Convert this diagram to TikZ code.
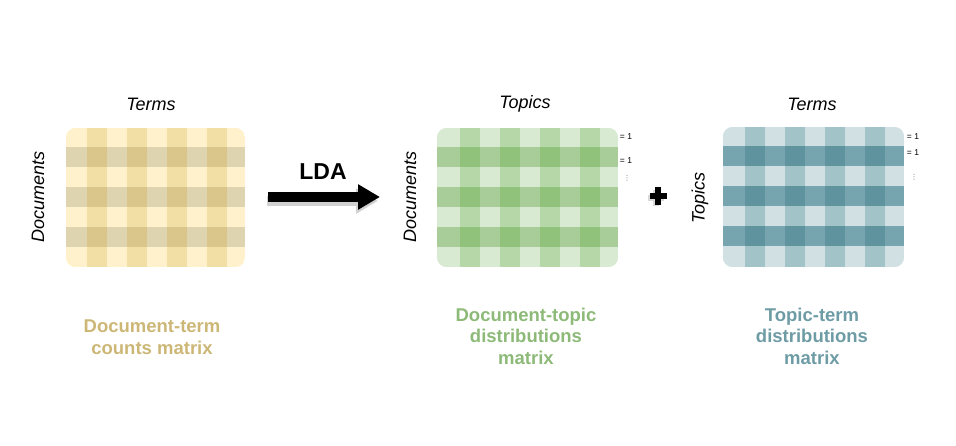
\documentclass[tikz,border=0pt]{standalone}
\usepackage{fontspec}
\setmainfont{Liberation Sans}
\newfontfamily\dotsfont{DejaVu Sans}
\usepackage{tikz}
\usetikzlibrary{arrows.meta, positioning, calc}
\definecolor{yellowlight}{HTML}{FFF1CB}
\definecolor{yellowcol}{HTML}{F2DFA6}
\definecolor{yellowrow}{HTML}{DFD4B0}
\definecolor{yellowmix}{HTML}{DAC68B}
\definecolor{yellowtext}{HTML}{CDB777}
\definecolor{greenlight}{HTML}{D9EAD3}
\definecolor{greencol}{HTML}{B6D7A8}
\definecolor{greenrow}{HTML}{A9CD99}
\definecolor{greenmix}{HTML}{91C27C}
\definecolor{greentext}{HTML}{8DBA78}
\definecolor{teallight}{HTML}{D1E0E3}
\definecolor{tealcol}{HTML}{A2C4C9}
\definecolor{tealrow}{HTML}{76A5AF}
\definecolor{tealmix}{HTML}{5F939E}
\definecolor{tealtext}{HTML}{6E9CA5}
\tikzset{
  axislabel/.style={font=\fontsize{18}{20}\selectfont\itshape, inner sep=0pt},
  captionlabel/.style={font=\fontsize{18.5}{21.5}\selectfont\bfseries, align=center, inner sep=0pt},
  sumlabel/.style={font=\fontsize{8.5}{9}\selectfont, inner sep=0pt},
  dotslabel/.style={font=\fontsize{7}{8}\dotsfont, text=black!60, inner sep=0pt},
  matrixbox/.style={minimum width=181pt, minimum height=139pt, inner sep=0pt},
}

\begin{document}
\begin{tikzpicture}[x=1pt, y=-1pt]
  \useasboundingbox (0,0) rectangle (956,446);

  % document-term counts
  \node[matrixbox, minimum width=179pt] (counts) at (155.5,197.5) {};
  \begin{scope}
    \clip[rounded corners=10pt] (counts.north west) rectangle (counts.south east);
    \fill[yellowlight] (counts.north west) rectangle (counts.south east);
    \foreach \x in {87,127,167,207} \fill[yellowcol] (\x,128) rectangle ++(20,139);
    \foreach \y in {147,187,227} \fill[yellowrow] (66,\y) rectangle ++(179,20);
    \foreach \x in {87,127,167,207} \foreach \y in {147,187,227} \fill[yellowmix] (\x,\y) rectangle ++(20,20);
  \end{scope}
  \node[axislabel] (countsterms) at (151,104) {Terms};
  \node[axislabel, rotate=90] (countsdocs) at (38,197) {Documents};
  \node[captionlabel, text=yellowtext] (countscap) at (152,337) {Document-term\\counts matrix};

  % LDA arrow
  \coordinate (ldastart) at (268,197);
  \coordinate (ldaend) at (380,197);
  \draw[black!18, line width=10pt, -{Triangle[length=22pt, width=24pt]}] ($(ldastart)+(-1,4)$) -- ($(ldaend)+(-2,4)$);
  \draw[black, line width=10pt, -{Triangle[length=22pt, width=24pt]}] (ldastart) -- (ldaend);
  \node[font=\fontsize{23}{25}\selectfont\bfseries, inner sep=0pt] (lda) at (323,172) {LDA};

  % document-topic distributions
  \node[matrixbox] (doctopic) at (527.5,197.5) {};
  \begin{scope}
    \clip[rounded corners=10pt] (doctopic.north west) rectangle (doctopic.south east);
    \fill[greenlight] (doctopic.north west) rectangle (doctopic.south east);
    \foreach \x in {460,500,540,580} \fill[greencol] (\x,128) rectangle ++(20,139);
    \foreach \y in {147,187,227} \fill[greenrow] (437,\y) rectangle ++(181,20);
    \foreach \x in {460,500,540,580} \foreach \y in {147,187,227} \fill[greenmix] (\x,\y) rectangle ++(20,20);
  \end{scope}
  \node[axislabel] (doctopictopics) at (525,104) {Topics};
  \node[axislabel, rotate=90] (doctopicdocs) at (410,197) {Documents};
  \node[sumlabel] (doctopicsumA) at (626,137) {= 1};
  \node[sumlabel] (doctopicsumB) at (626,161) {= 1};
  \node[dotslabel] (doctopicdots) at (627,178) {⋮};
  \node[captionlabel, text=greentext] (doctopiccap) at (526,336) {Document-topic\\distributions\\matrix};

  % plus sign
  \coordinate (plus) at (658,196);
  \draw[black!15, line width=6pt] ($(plus)+(-10,2)$) -- ($(plus)+(6,2)$) ($(plus)+(-2,-6)$) -- ($(plus)+(-2,10)$);
  \draw[black, line width=6pt] ($(plus)+(-8.5,0)$) -- ($(plus)+(8.5,0)$) ($(plus)+(0,-9)$) -- ($(plus)+(0,9)$);

  % topic-term distributions
  \node[matrixbox, minimum height=140pt] (topicterm) at (813.5,197) {};
  \begin{scope}
    \clip[rounded corners=10pt] (topicterm.north west) rectangle (topicterm.south east);
    \fill[teallight] (topicterm.north west) rectangle (topicterm.south east);
    \foreach \x in {745,785,825,865} \fill[tealcol] (\x,127) rectangle ++(20,140);
    \foreach \y in {146,186,226} \fill[tealrow] (723,\y) rectangle ++(181,20);
    \foreach \x in {745,785,825,865} \foreach \y in {146,186,226} \fill[tealmix] (\x,\y) rectangle ++(20,20);
  \end{scope}
  \node[axislabel] (topicterms) at (812,104) {Terms};
  \node[axislabel, rotate=90] (topictopics) at (700,198) {Topics};
  \node[sumlabel] (topictermsumA) at (913,137) {= 1};
  \node[sumlabel] (topictermsumB) at (913,153) {= 1};
  \node[dotslabel] (topictermdots) at (914,177) {⋮};
  \node[captionlabel, text=tealtext] (topictermcap) at (812,336) {Topic-term\\distributions\\matrix};
\end{tikzpicture}
\end{document}
